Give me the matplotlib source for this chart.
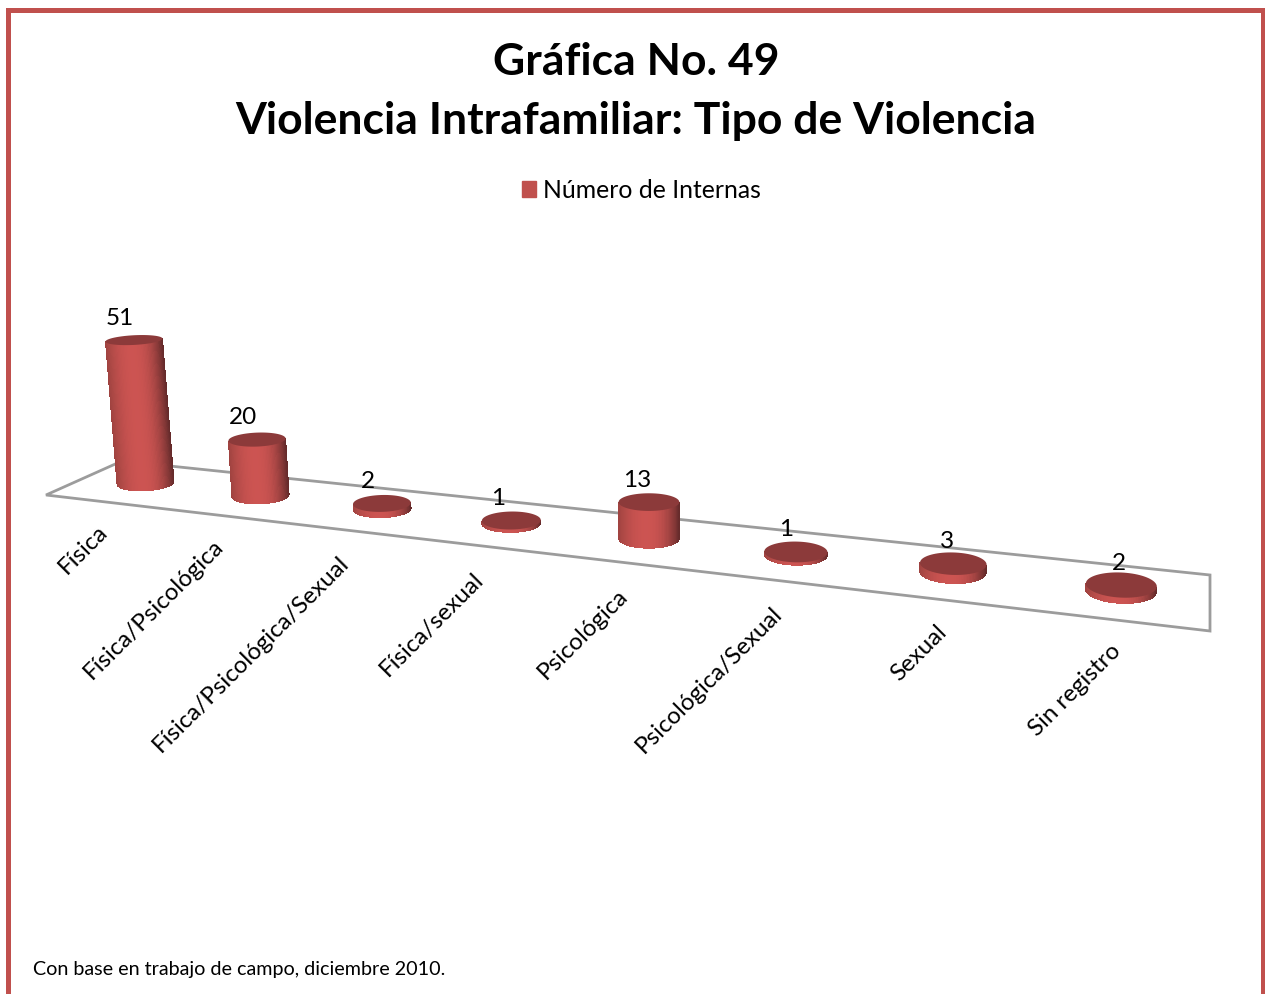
import matplotlib
matplotlib.use('Agg')
import matplotlib.pyplot as plt
from matplotlib.patches import Patch, Polygon, Rectangle
import numpy as np

# data
categorias = ['Física', 'Física/Psicológica', 'Física/Psicológica/Sexual', 'Física/sexual',
              'Psicológica', 'Psicológica/Sexual', 'Sexual', 'Sin registro']
internas = [51, 20, 2, 1, 13, 1, 3, 2]

titulo = 'Gráfica No. 49\nViolencia Intrafamiliar: Tipo de Violencia'
serie = 'Número de Internas'
nota = 'Con base en trabajo de campo, diciembre 2010.'

ROJO = '#C0504D'
TAPA = '#8C3A3A'
GRIS = '#9C9C9C'

plt.rcParams['font.family'] = ['Lato', 'DejaVu Sans']

fig = plt.figure(figsize=(12.65, 9.94), dpi=100)
ax = fig.add_axes([0, 0, 1, 1])
ax.set_xlim(0, 1265)
ax.set_ylim(994, 0)
ax.axis('off')

# frame (its bottom edge falls outside the page)
ax.add_patch(Rectangle((7.5, 10), 1255.5, 1000, fc='white', ec=ROJO, lw=3.6, zorder=0))

# floor of the 3D plot
esq_front_izq = (46, 495)
esq_back_izq = (122, 461)
esq_back_der = (1210, 575)
esq_front_der = (1210, 631)
ax.add_patch(Polygon([esq_front_izq, esq_back_izq, esq_back_der, esq_front_der],
                     closed=True, fc='white', ec=GRIS, lw=2, zorder=1))


def linea(p, q, x):
    return p[1] + (q[1] - p[1]) * (x - p[0]) / (q[0] - p[0])


def base_x(i):
    # categories get wider towards the viewer
    return 145.5 + 111.95 * i + 2.9 * i ** 2 + 0.1448 * i ** 3


def base_y(x):
    # bars stand a little behind the middle of the floor
    return (linea(esq_front_izq, esq_front_der, x) + linea((173, 467), esq_back_der, x)) / 2 - 2.5


def elipse(cx, cy, rx, ry, rot, th):
    c, s = np.cos(rot), np.sin(rot)
    ex, ey = rx * np.cos(th), ry * np.sin(th)
    return cx + ex * c - ey * s, cy + ex * s + ey * c


def tono(u):
    # horizontal shading of the cylinder wall, u from -1 (left) to 1 (right)
    claro = np.array([0.80, 0.33, 0.32])
    izq = np.array([0.62, 0.26, 0.25])
    der = np.array([0.40, 0.17, 0.17])
    if u < -0.1:
        t = (u + 0.1) / -0.9
        return claro + (izq - claro) * t ** 2
    t = (u + 0.1) / 1.1
    return claro + (der - claro) * t ** 2.5


def cilindro(i, valor):
    x = base_x(i)
    y = base_y(x)
    h = 2.8 * valor
    rx = 28.5 + 7.4e-6 * (x - 147) ** 2
    # perspective: walls lean away from the middle, lids get flatter higher up
    xt = x + (x - 649) * 1.6e-4 * h
    yt = y - h
    rot = np.radians((x - 649) * 0.006)
    razon = lambda yy: 0.17 + 0.00075 * (yy - 341)
    ry_b, ry_t = rx * razon(y), rx * razon(yt)

    ths = np.linspace(np.pi, 0, 61)
    for a, b in zip(ths[:-1], ths[1:]):
        xa, ya = elipse(x, y, rx, ry_b, rot, np.array([a, b]))
        xb, yb = elipse(xt, yt, rx, ry_t, rot, np.array([a, b]))
        ax.add_patch(Polygon([(xa[0], ya[0]), (xa[1], ya[1]), (xb[1], yb[1]), (xb[0], yb[0])],
                             closed=True, fc=tono(np.cos((a + b) / 2)), ec='none',
                             antialiased=False, zorder=3 + i))
    th = np.linspace(0, 2 * np.pi, 80)
    ex, ey = elipse(xt, yt, rx, ry_t, rot, th)
    ax.fill(ex, ey, color=TAPA, lw=0, zorder=3 + i)
    return xt, yt


# bars and value labels
for i, valor in enumerate(internas):
    xt, yt = cilindro(i, valor)
    ax.text(xt - 14 + 12 * (i / 7) ** 3, yt - 22, str(valor), fontsize=17.5,
            ha='center', va='center', color='black', zorder=20)

# category labels at 45 degrees
for i, nombre in enumerate(categorias):
    ax.text(104.5 + 110.4 * i + 4.9 * i ** 2, 528 + 15 * i + 0.3 * i ** 2, nombre, fontsize=17.4,
            rotation=45, rotation_mode='anchor', ha='right', va='center', color='black')

ax.text(636, 91.5, titulo, fontsize=32, fontweight='bold', ha='center', va='center',
        linespacing=1.56, color='black')

ax.legend(handles=[Patch(color=ROJO, label=serie)], loc='center', bbox_to_anchor=(641, 190.5),
          bbox_transform=ax.transData, frameon=False, fontsize=17.8, handlelength=0.6,
          handleheight=0.6, handletextpad=0.25, borderpad=0, labelcolor='black')

ax.text(33, 970, nota, fontsize=14.2, ha='left', va='center', color='black')

fig.savefig('out.png', dpi=100)
